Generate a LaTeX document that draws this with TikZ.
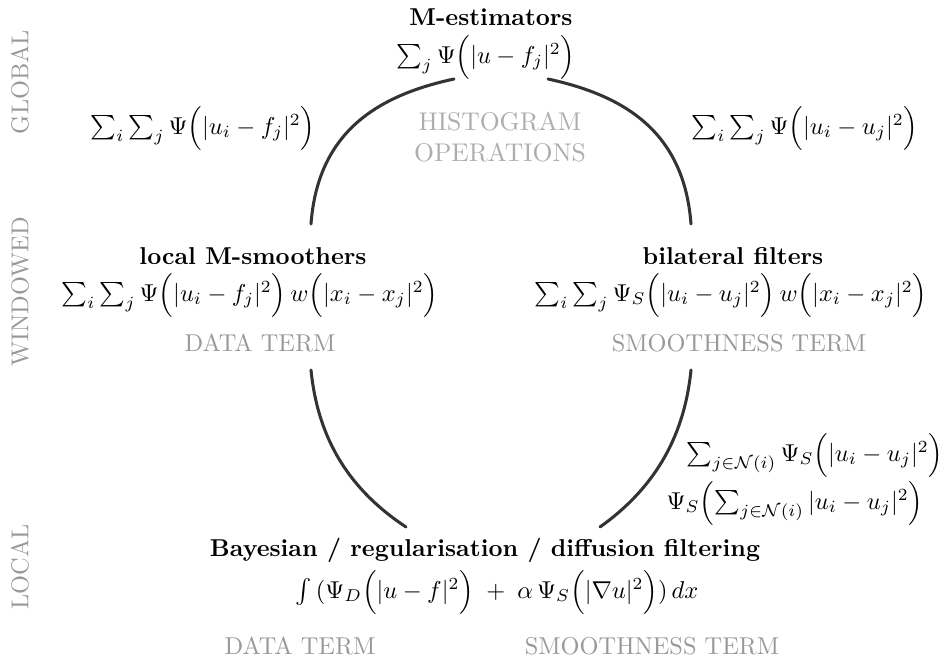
\documentclass[tikz,border=0pt]{standalone}
\usepackage{amsmath,amssymb}
\begin{document}
\begin{tikzpicture}[x=0.41pt,y=-0.41pt,
  title/.style={font=\bfseries, inner sep=0pt, anchor=center},
  formula/.style={inner sep=0pt, anchor=center},
  graylabel/.style={text=black!40, inner sep=0pt, anchor=center},
  sidelabel/.style={text=black!40, inner sep=0pt, anchor=center, rotate=90},
  arc/.style={line width=1.25pt, draw=black!80, line cap=round}]
\useasboundingbox (0,0) rectangle (951,661);
% side labels
\node[sidelabel] (glob) at (20,82) {GLOBAL};
\node[sidelabel] (wind) at (20,292) {WINDOWED};
\node[sidelabel] (loc) at (20,567) {LOCAL};
% top
\node[title] (mest) at (491,17) {M-estimators};
\node[formula] (mestf) at (486,57) {$\sum_j \Psi\Bigl(|u-f_j|^2\Bigr)$};
\node[formula] (gl) at (203,128) {$\sum_i\sum_j \Psi\Bigl(|u_i-f_j|^2\Bigr)$};
\node[formula] (gr) at (805,128) {$\sum_i\sum_j \Psi\Bigl(|u_i-u_j|^2\Bigr)$};
\node[graylabel, align=center, text=black!32, font=\fontsize{10.5}{12.5}\selectfont] (hist) at (500,137) {HISTOGRAM\\OPERATIONS};
% windowed
\node[title] (lms) at (253,256) {local M-smoothers};
\node[formula] (lmsf) at (250,295) {$\sum_i\sum_j \Psi\Bigl(|u_i-f_j|^2\Bigr)\,w\Bigl(|x_i-x_j|^2\Bigr)$};
\node[graylabel] (dt1) at (260,343) {DATA TERM};
\node[title] (bil) at (733,256) {bilateral filters};
\node[formula] (bilf) at (731,295) {$\sum_i\sum_j \Psi_S\Bigl(|u_i-u_j|^2\Bigr)\,w\Bigl(|x_i-x_j|^2\Bigr)$};
\node[graylabel] (st1) at (739,343) {SMOOTHNESS TERM};
% local
\node[formula] (nf1) at (815,455) {$\sum_{j\in\mathcal{N}(i)} \Psi_S\Bigl(|u_i-u_j|^2\Bigr)$};
\node[formula] (nf2) at (795,503) {$\Psi_S\Bigl(\sum_{j\in\mathcal{N}(i)}|u_i-u_j|^2\Bigr)$};
\node[title] (bay) at (485,550) {Bayesian / regularisation / diffusion filtering};
\node[formula] (bayf) at (497,592) {$\int\,(\Psi_D\Bigl(|u-f|^2\Bigr) \;+\; \alpha\,\Psi_S\Bigl(|\nabla u|^2\Bigr))\,dx$};
\node[graylabel] (dt2) at (300,646) {DATA TERM};
\node[graylabel] (st2) at (652,646) {SMOOTHNESS TERM};
% arc end points
\coordinate (ul0) at (311,224);
\coordinate (ul1) at (454,79);
\coordinate (ur0) at (548,79);
\coordinate (ur1) at (691,224);
\coordinate (ll0) at (311,370);
\coordinate (ll1) at (406,527);
\coordinate (lr0) at (691,370);
\coordinate (lr1) at (600,527);
\draw[arc] (ul0) .. controls (318,130) and (380,95) .. (ul1);
\draw[arc] (ur0) .. controls (622,95) and (684,130) .. (ur1);
\draw[arc] (ll0) .. controls (318,440) and (350,490) .. (ll1);
\draw[arc] (lr0) .. controls (684,440) and (652,490) .. (lr1);
\end{tikzpicture}
\end{document}
